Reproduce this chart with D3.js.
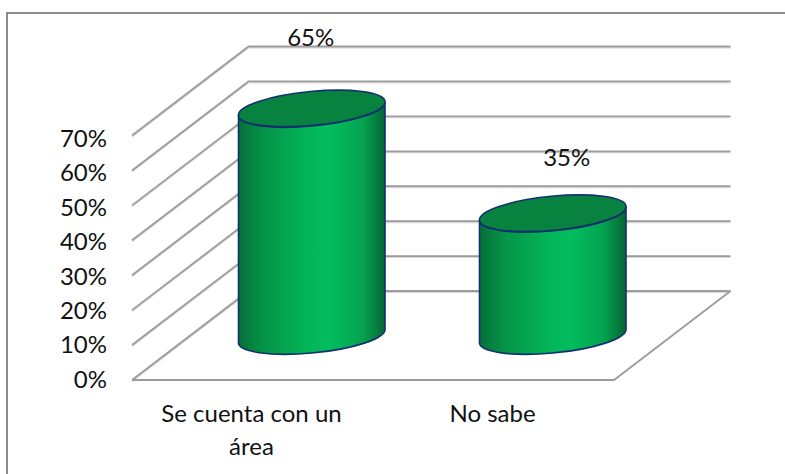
<!DOCTYPE html>
<html><head><meta charset="utf-8">
<script src="https://cdn.jsdelivr.net/npm/d3@7"></script>
<style>
html,body{margin:0;padding:0;background:#fff}
svg{display:block}
text{font-family:Lato,"Open Sans",sans-serif;fill:#111}
</style></head><body>
<svg id="c" width="785" height="474"></svg>
<script>
const categories = ["Se cuenta con un área", "No sabe"];
const categoryLines = [["Se cuenta con un", "área"], ["No sabe"]];
const values = [0.65, 0.35];
const valueLabels = ["65%", "35%"];
const tickValues = [0, 0.1, 0.2, 0.3, 0.4, 0.5, 0.6, 0.7];

const W = 785, H = 474;
const fontSize = 24;
const depth = {dx: 116.5, dy: -89};
const ell = {a: 73.6, b: 17, rot: -5.48, hw: 73.25, tilt: 6.65};
const labelOffset = [{x: -1, y: -62}, {x: 14, y: -47}];

const svg = d3.select("#c");
const y = d3.scaleLinear().domain([0, 0.7]).range([380, 135.5]);
const x = d3.scaleBand().domain(categories).range([132, 614]);
const yLabel = d3.scaleLinear().domain([0, 0.7]).range([379, 138]);

const defs = svg.append("defs");
const grad = defs.append("linearGradient").attr("id", "cyl")
  .attr("x1", 0).attr("x2", 1).attr("y1", 0).attr("y2", 0);
[[0, "#057038"], [0.18, "#059549"], [0.42, "#04b056"], [0.62, "#02bd5e"], [0.85, "#04a24f"], [1, "#056534"]]
  .forEach(([o, c]) => grad.append("stop").attr("offset", o).attr("stop-color", c));

// Outer frame: top and left edges only
const frame = svg.append("g").attr("stroke", "#8c8c8c").attr("stroke-width", 2).attr("fill", "none");
frame.append("line").attr("x1", 6).attr("y1", 13).attr("x2", W).attr("y2", 13);
frame.append("line").attr("x1", 7).attr("y1", 12).attr("x2", 7).attr("y2", H);

// Walls and floor
const grid = svg.append("g").attr("fill", "none");
const backX0 = x.range()[0] + depth.dx, backX1 = x.range()[1] + depth.dx;
function wall(v) {
  const yf = y(v), yb = yf + depth.dy;
  return `M${x.range()[0]},${yf}L${backX0},${yb}L${backX1},${yb}`;
}
grid.selectAll("path.s").data(tickValues).join("path").attr("class", "s")
  .attr("d", d => wall(d)).attr("transform", "translate(0,1.4)")
  .attr("stroke", "#d6d6d6").attr("stroke-width", 1.2);
grid.selectAll("path.g").data(tickValues).join("path").attr("class", "g")
  .attr("d", d => wall(d)).attr("stroke", "#9c9c9c").attr("stroke-width", 1.8);
grid.append("path")
  .attr("d", `M${x.range()[0]},${y(0)}L${x.range()[1]},${y(0)}L${backX1},${y(0) + depth.dy}`)
  .attr("stroke", "#9c9c9c").attr("stroke-width", 1.8);

// Cylinders
const baseY = y(0) + depth.dy / 2;
const arc = (tx, ty, large, sweep) => `A${ell.a},${ell.b} ${ell.rot} ${large} ${sweep} ${tx},${ty}`;
svg.append("g").selectAll("g").data(values).join("g").each(function (v, i) {
  const g = d3.select(this);
  const cx = x(categories[i]) + x.bandwidth() / 2 + depth.dx / 2 + 1;
  const h = y(0) - y(v);
  const bot = baseY, top = baseY - h;
  const lx = cx - ell.hw, rx = cx + ell.hw;
  g.append("path")
    .attr("d", `M${lx},${top + ell.tilt}L${lx},${bot + ell.tilt}${arc(rx, bot - ell.tilt, 1, 0)}L${rx},${top - ell.tilt}${arc(lx, top + ell.tilt, 1, 1)}Z`)
    .attr("fill", "url(#cyl)").attr("stroke", "#14306e").attr("stroke-width", 1.6);
  g.append("ellipse").attr("rx", ell.a).attr("ry", ell.b)
    .attr("transform", `translate(${cx},${top}) rotate(${ell.rot})`)
    .attr("fill", "#07823f").attr("stroke", "#14306e").attr("stroke-width", 1.6);
  g.append("text").attr("x", cx + labelOffset[i].x).attr("y", top + labelOffset[i].y)
    .attr("text-anchor", "middle").attr("font-size", fontSize).text(valueLabels[i]);
});

// Value axis labels
const yAxis = d3.axisLeft(yLabel).tickValues(tickValues).tickFormat(d3.format(".0%")).tickSize(0).tickPadding(0);
const ya = svg.append("g").attr("transform", "translate(107,0)").call(yAxis);
ya.select(".domain").remove();
ya.attr("font-family", null).attr("font-size", null);
ya.selectAll("text").attr("font-size", fontSize).attr("dy", "0.35em");

// Category labels
const xl = svg.append("g").selectAll("text").data(categories).join("text")
  .attr("text-anchor", "middle").attr("font-size", fontSize)
  .attr("transform", d => `translate(${x(d) + x.bandwidth() / 2 - 1},421.5)`);
xl.each(function (d, i) {
  d3.select(this).selectAll("tspan").data(categoryLines[i]).join("tspan")
    .attr("x", 0).attr("y", (_, j) => j * 33).text(t => t);
});
</script>
</body></html>
